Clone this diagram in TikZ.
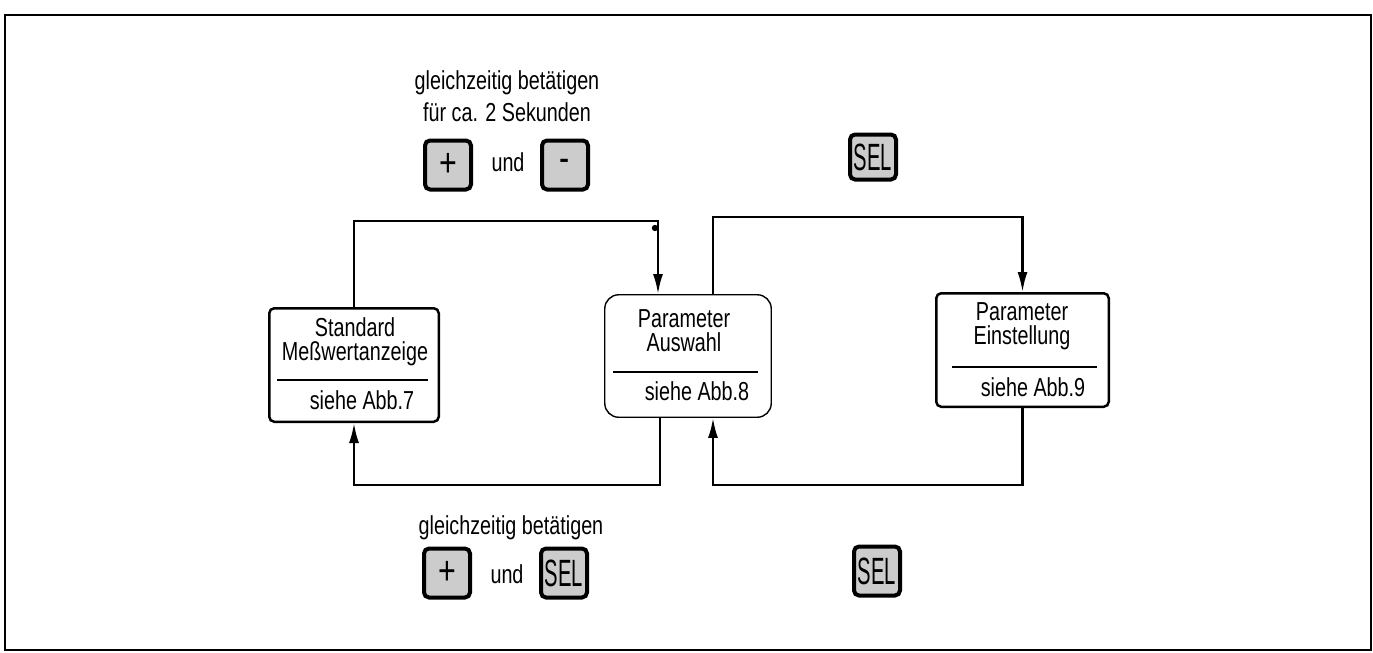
\documentclass[tikz,border=0pt]{standalone}
\usepackage{fontspec}
\setmainfont{Liberation Sans}[FakeStretch=0.76]
\usetikzlibrary{arrows.meta}
\tikzset{
  frameline/.style={line width=2pt},
  sqbox/.style={draw, line width=2.5pt, rounded corners=5pt, inner sep=0pt},
  roundbox/.style={draw, line width=1.4pt, rounded corners=14pt, inner sep=0pt},
  keybox/.style={draw, line width=4pt, rounded corners=5pt, fill=black!20, inner sep=0pt,
                 minimum width=46pt, minimum height=49pt},
  lbl/.style={inner sep=0pt, font=\fontsize{26}{30}\selectfont},
  twolbl/.style={inner sep=0pt, align=center, font=\fontsize{26}{24}\selectfont},
  keytxt/.style={inner sep=0pt, font=\fontsize{40}{40}\selectfont},
  divline/.style={line width=2.5pt},
  conn/.style={line width=2.3pt},
  arr/.style={conn, -{Latex[length=20pt,width=10pt]}},
}
\newcommand{\seltext}{\scalebox{0.7}[1]{\fontsize{38}{38}\selectfont SEL}}
\begin{document}
\begin{tikzpicture}[x=1pt,y=-1pt]
\useasboundingbox (0,0) rectangle (1373,653);
\fill[white] (0,0) rectangle (1373,653);
\draw[frameline] (5,15) rectangle (1371,650);

% boxes
\node[sqbox, minimum width=169.5pt, minimum height=113.5pt] (std) at (354,365) {};
\node[roundbox, minimum width=166.5pt, minimum height=122.5pt] (aus) at (688,356) {};
\node[sqbox, minimum width=172.5pt, minimum height=113.5pt] (ein) at (1022.5,350) {};

% box texts
\node[twolbl] (std1) at (355,342) {Standard\\Meßwertanzeige};
\node[lbl] (std3) at (362,400) {siehe Abb.7};
\draw[divline] (277,380) -- (428,380);

\node[twolbl] (aus1) at (684,331) {Parameter\\Auswahl};
\node[lbl] (aus3) at (697,391) {siehe Abb.8};
\draw[divline] (613,372) -- (758,372);

\node[twolbl] (ein1) at (1022,326) {Parameter\\Einstellung};
\node[lbl] (ein3) at (1033,387) {siehe Abb.9};
\draw[divline] (952,367) -- (1097,367);

% connectors
\draw[arr] (std.north) -- ++(0,-86) -| ([xshift=-30pt]aus.north);
\fill (655,228) circle (3.2);
\draw[arr] ([xshift=25pt]aus.north) -- ++(0,-77) -| (ein.north);
\draw[arr] ([xshift=-28pt]aus.south) -- ++(0,67) -| (std.south);
\draw[arr] (ein.south) -- ++(0,77) -| ([xshift=25pt]aus.south);

% top instruction
\node[twolbl, font=\fontsize{26}{32}\selectfont] (t1) at (507,96) {gleichzeitig betätigen\\für ca. 2 Sekunden};
\node[keybox] (kplus1) at (448,165) {};
\node[keytxt] at (kplus1) {+};
\node[lbl] (und1) at (508,162) {und};
\node[keybox] (kminus) at (565,165) {};
\node[keytxt] at (kminus) {-};
\node[keybox, minimum height=45pt] (ksel1) at (873,157) {};
\node[inner sep=0pt] at (ksel1) {\seltext};

% bottom instruction
\node[lbl] (b1) at (511,528) {gleichzeitig betätigen};
\node[keybox] (kplus2) at (447,573) {};
\node[keytxt] at (kplus2) {+};
\node[lbl] (und2) at (507,574) {und};
\node[keybox] (ksel2) at (564,573) {};
\node[inner sep=0pt] at (ksel2) {\seltext};
\node[keybox] (ksel3) at (877,571) {};
\node[inner sep=0pt] at (ksel3) {\seltext};
\end{tikzpicture}
\end{document}
